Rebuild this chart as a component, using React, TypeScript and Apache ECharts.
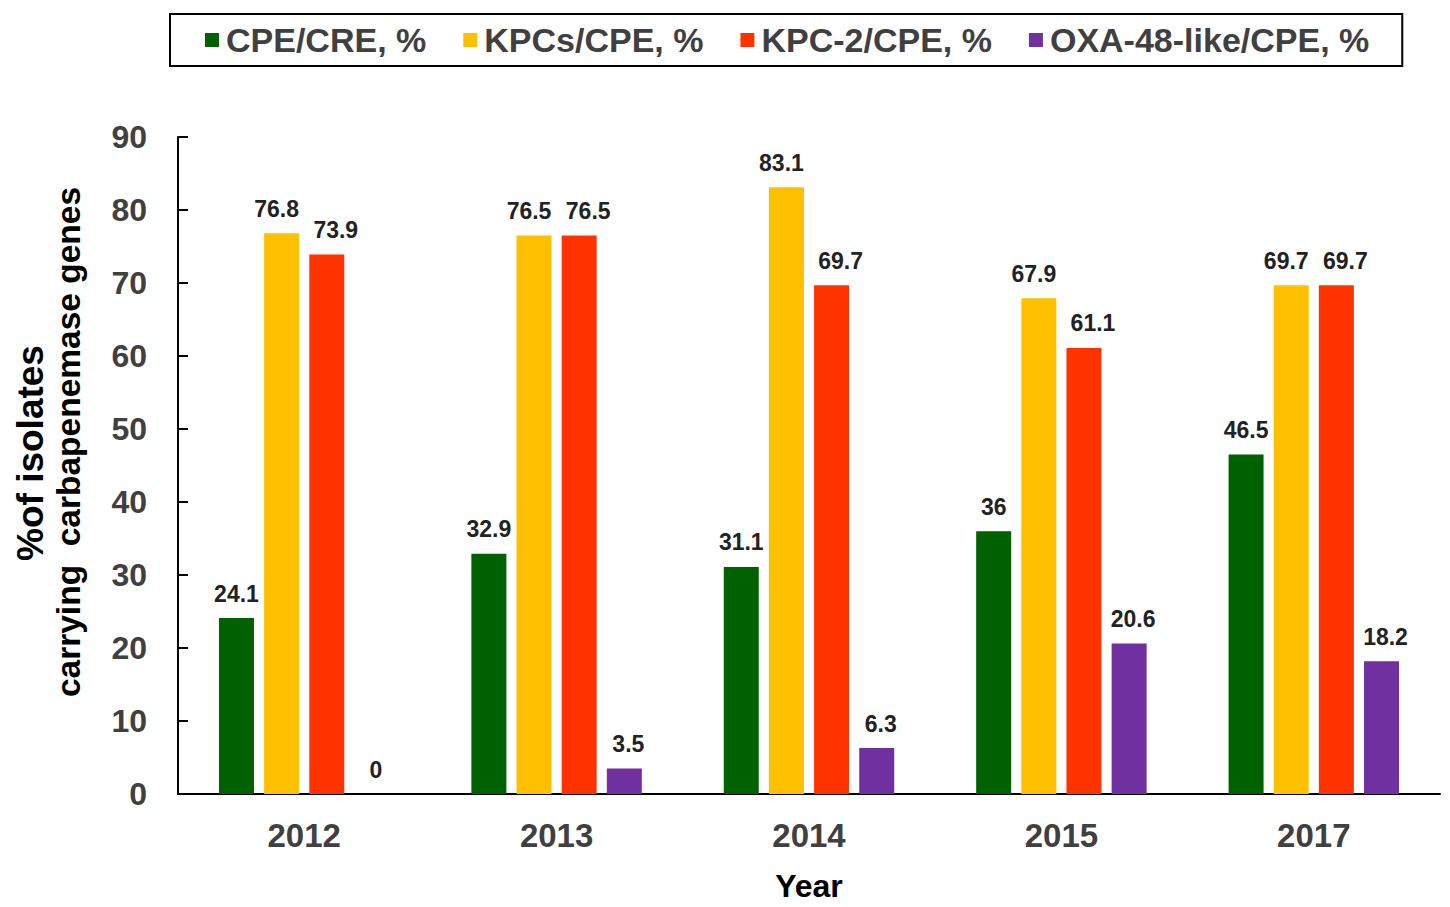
import React, { useEffect, useRef } from "react";
import * as echarts from "echarts";

const years = ["2012", "2013", "2014", "2015", "2017"];
const seriesNames = ["CPE/CRE, %", "KPCs/CPE, %", "KPC-2/CPE, %", "OXA-48-like/CPE, %"];
const cpeCre = [24.1, 32.9, 31.1, 36, 46.5];
const kpcsCpe = [76.8, 76.5, 83.1, 67.9, 69.7];
const kpc2Cpe = [73.9, 76.5, 69.7, 61.1, 69.7];
const oxa48Cpe = [0, 3.5, 6.3, 20.6, 18.2];
const colors = ["#006100", "#FFC000", "#FF3300", "#7030A0"];
const yTicks = [0, 10, 20, 30, 40, 50, 60, 70, 80, 90];

const FONT = "'Liberation Sans', Arial, Helvetica, sans-serif";
const LABEL_SHIFT = [0, -5, 9, 4];

export default function App() {
  const ref = useRef<HTMLDivElement>(null);

  useEffect(() => {
    if (!ref.current) return;
    const chart = echarts.init(ref.current, undefined, { renderer: "svg" });
    const values = [cpeCre, kpcsCpe, kpc2Cpe, oxa48Cpe];
    chart.setOption({
      animation: false,
      backgroundColor: "#ffffff",
      textStyle: { fontFamily: FONT },
      legend: {
        left: 170,
        top: 14,
        padding: [9, 33, 9, 35],
        borderColor: "#000000",
        borderWidth: 2,
        itemWidth: 14,
        itemHeight: 14,
        itemGap: 37,
        icon: "rect",
        textStyle: {
          fontFamily: FONT,
          fontSize: 34,
          fontWeight: "bold",
          color: "#404040",
          padding: [0, 0, 0, 2],
        },
        data: seriesNames,
      },
      grid: { left: 178, right: 10, top: 137, bottom: 107, containLabel: false },
      xAxis: {
        type: "category",
        data: years,
        name: "Year",
        nameLocation: "middle",
        nameGap: 76,
        nameTextStyle: { fontFamily: FONT, fontSize: 32, fontWeight: "bold", color: "#000000" },
        axisLine: { lineStyle: { color: "#000000", width: 2 } },
        axisTick: { show: false },
        axisLabel: { fontFamily: FONT, fontSize: 33, fontWeight: "bold", color: "#404040", margin: 25 },
      },
      yAxis: {
        type: "value",
        min: yTicks[0],
        max: yTicks[yTicks.length - 1],
        interval: 10,
        axisLine: { show: true, lineStyle: { color: "#000000", width: 2 } },
        axisTick: { show: true, inside: true, length: 10, lineStyle: { color: "#000000", width: 2 } },
        splitLine: { show: false },
        axisLabel: { fontFamily: FONT, fontSize: 32, fontWeight: "bold", color: "#404040", margin: 31 },
      },
      graphic: [
        {
          type: "text",
          x: 49,
          y: 442,
          rotation: Math.PI / 2,
          style: {
            text: "{a|%of isolates}\n{b|carrying  carbapenemase genes}",
            fontFamily: FONT,
            fontWeight: "bold",
            fill: "#000000",
            textAlign: "center",
            textVerticalAlign: "middle",
            rich: {
              a: {
                fontFamily: FONT,
                fontSize: 37,
                fontWeight: "bold",
                lineHeight: 38,
                fill: "#000000",
                padding: [0, 22, 0, 0],
              },
              b: { fontFamily: FONT, fontSize: 33.5, fontWeight: "bold", lineHeight: 38, fill: "#000000" },
            },
          },
        },
      ],
      series: seriesNames.map((name, i) => ({
        name,
        type: "bar",
        data: values[i],
        barWidth: 35,
        barGap: "29%",
        itemStyle: { color: colors[i] },
        label: {
          show: true,
          position: "top",
          distance: 13,
          offset: [LABEL_SHIFT[i], 0],
          fontFamily: FONT,
          fontSize: 23,
          fontWeight: "bold",
          color: "#222222",
        },
      })),
    });
    return () => chart.dispose();
  }, []);

  return (
    <div
      ref={ref}
      style={{ position: "fixed", left: 0, top: 0, width: 1450, height: 907, background: "#fff" }}
    />
  );
}
